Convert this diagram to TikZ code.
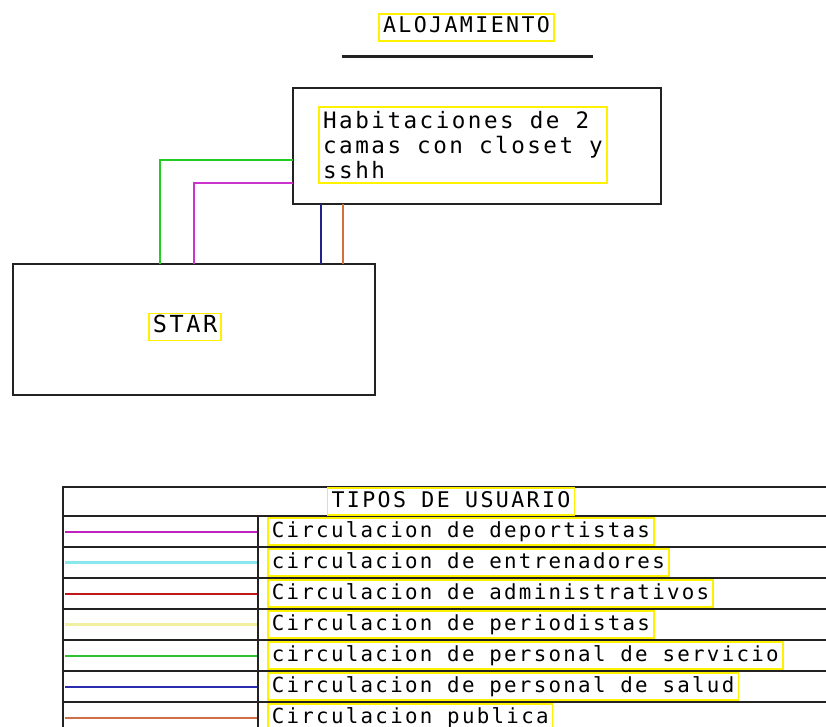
\documentclass[tikz,border=0pt]{standalone}
\usepackage{fontspec}
\newfontfamily\cadfont{DejaVu Sans Mono}[LetterSpace=11]
\usetikzlibrary{positioning}
\definecolor{ink}{HTML}{222222}
\definecolor{cgreen}{HTML}{22CC22}
\definecolor{cmag}{HTML}{CC33CC}
\definecolor{cnavy}{HTML}{22228A}
\definecolor{corange}{HTML}{D2703C}
\definecolor{lmag}{HTML}{C020C0}
\definecolor{lcyan}{HTML}{88E8EE}
\definecolor{lred}{HTML}{C01818}
\definecolor{lyel}{HTML}{F2F0A0}
\definecolor{lgreen}{HTML}{30C030}
\definecolor{lblue}{HTML}{2B2BB0}
\definecolor{lbrown}{HTML}{D07048}

\begin{document}
\begin{tikzpicture}[x=1pt,y=-1pt,
  frame/.style={draw=ink,line width=2.2pt,inner sep=0pt,outer sep=0pt},
  ytag/.style={draw=yellow,line width=1.6pt,inner xsep=4pt,inner ysep=4pt,
    font=\cadfont\fontsize{20.8}{25}\selectfont},
  tag/.style={ytag,text height=15pt,text depth=4pt},
  wire/.style={line width=1.9pt},
  tabline/.style={draw=ink,line width=1.6pt},
  key/.style={line width=2pt}]
\useasboundingbox (0,0) rectangle (826,727);
\clip (0,0) rectangle (826,727);

% title
\node[tag,font=\cadfont\fontsize{21.6}{25}\selectfont] (title) at (466.5,27.5) {ALOJAMIENTO};
\draw[ink,line width=2.8pt] ([xshift=-125pt,yshift=-15pt]title.south) -- ++(251,0);

% rooms and star
\node[frame,minimum width=368pt,minimum height=116pt] (hab) at (477,146) {};
\node[ytag,align=left,font=\cadfont\fontsize{22.6}{25}\selectfont] (habtxt) at (463,145)
  {Habitaciones de 2\\camas con closet y\\sshh};
\node[frame,minimum width=362pt,minimum height=131pt] (star) at (194,329.5) {};
\node[tag,font=\cadfont\fontsize{23.5}{25}\selectfont] (startxt) at (185,327) {STAR};

% connectors
\draw[wire,cgreen] ([yshift=-14pt]hab.west) -| ([xshift=-34pt]star.north);
\draw[wire,cmag] ([yshift=-37pt]hab.west) -| (star.north);
\draw[wire,cnavy] ([xshift=127pt]star.north) -- ([xshift=127pt]star.north |- hab.south);
\draw[wire,corange] ([xshift=149pt]star.north) -- ([xshift=149pt]star.north |- hab.south);

% legend table
\draw[tabline] (63,487) rectangle (840,740);
\foreach \y in {516,547,...,702} \draw[tabline] (63,\y) -- (840,\y);
\draw[tabline,line width=2.8pt] (63,578) -- (840,578);
\draw[tabline,line width=2.8pt] (63,671) -- (840,671);
\draw[tabline] (258,516) -- (258,740);
\node[tag,font=\cadfont\fontsize{21.6}{25}\selectfont] (head) at (451,501.5) {TIPOS DE USUARIO};
\foreach \txt [count=\i] in {Circulacion de deportistas,
    circulacion de entrenadores,Circulacion de administrativos,
    Circulacion de periodistas,circulacion de personal de servicio,
    Circulacion de personal de salud,Circulacion publica}{
  \node[tag,anchor=west] (lab\i) at (267,{500.5+31*\i}) {\txt};
  \coordinate (key\i) at (65,{500.5+31*\i});
}
\draw[key,lmag] (key1) -- ([xshift=-10pt]key1 -| lab1.west);
\draw[key,lcyan,line width=3.2pt] (key2) -- ([xshift=-10pt]key2 -| lab2.west);
\draw[key,lred] (key3) -- ([xshift=-10pt]key3 -| lab3.west);
\draw[key,lyel,line width=2.6pt] (key4) -- ([xshift=-10pt]key4 -| lab4.west);
\draw[key,lgreen] (key5) -- ([xshift=-10pt]key5 -| lab5.west);
\draw[key,lblue] (key6) -- ([xshift=-10pt]key6 -| lab6.west);
\draw[key,lbrown] (key7) -- ([xshift=-10pt]key7 -| lab7.west);
\end{tikzpicture}
\end{document}
